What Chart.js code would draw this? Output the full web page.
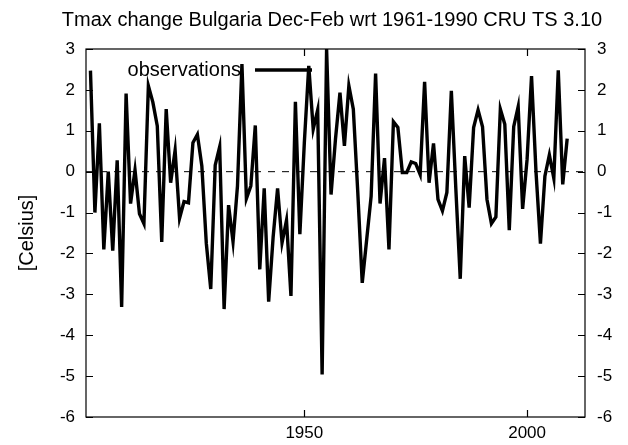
<!DOCTYPE html>
<html>
<head>
<meta charset="utf-8">
<script src="https://cdn.jsdelivr.net/npm/chart.js@4.4.1/dist/chart.umd.min.js"></script>
<style>
  html, body { margin: 0; padding: 0; background: #fff; }
  #wrap { width: 628px; height: 445px; }
</style>
</head>
<body>
<div id="wrap"><canvas id="tmaxChart" width="628" height="445"></canvas></div>
<script>
// Dec-Feb Tmax anomalies for Bulgaria, relative to 1961-1990 (CRU TS 3.10)
const years = [
  1902, 1903, 1904, 1905, 1906, 1907, 1908, 1909, 1910,
  1911, 1912, 1913, 1914, 1915, 1916, 1917, 1918, 1919, 1920,
  1921, 1922, 1923, 1924, 1925, 1926, 1927, 1928, 1929, 1930,
  1931, 1932, 1933, 1934, 1935, 1936, 1937, 1938, 1939, 1940,
  1941, 1942, 1943, 1944, 1945, 1946, 1947, 1948, 1949, 1950,
  1951, 1952, 1953, 1954, 1955, 1956, 1957, 1958, 1959, 1960,
  1961, 1962, 1963, 1964, 1965, 1966, 1967, 1968, 1969, 1970,
  1971, 1972, 1973, 1974, 1975, 1976, 1977, 1978, 1979, 1980,
  1981, 1982, 1983, 1984, 1985, 1986, 1987, 1988, 1989, 1990,
  1991, 1992, 1993, 1994, 1995, 1996, 1997, 1998, 1999, 2000,
  2001, 2002, 2003, 2004, 2005, 2006, 2007, 2008, 2009
];
const tmaxAnomaly = [
  2.47, -1.00, 1.18, -1.90, 0.00, -1.93, 0.28, -3.31, 1.91,
  -0.78, 0.04, -1.03, -1.27, 2.10, 1.70, 1.12, -1.72, 1.53, -0.27,
  0.52, -1.14, -0.73, -0.76, 0.71, 0.91, 0.14, -1.75, -2.87, 0.16,
  0.61, -3.36, -0.82, -1.71, -0.35, 2.63, -0.66, -0.35, 1.13, -2.39,
  -0.41, -3.18, -1.60, -0.41, -1.74, -1.19, -3.04, 1.71, -1.53, 0.70,
  2.59, 1.04, 1.51, -4.96, 3.00, -0.56, 0.80, 1.93, 0.63, 2.10,
  1.53, -0.50, -2.72, -1.66, -0.60, 2.40, -0.78, 0.33, -1.90, 1.22,
  1.08, -0.02, -0.02, 0.24, 0.20, -0.07, 2.20, -0.27, 0.69, -0.68,
  -0.96, -0.51, 1.98, -0.40, -2.62, 0.38, -0.88, 1.08, 1.51, 1.10,
  -0.68, -1.27, -1.11, 1.53, 1.16, -1.43, 1.10, 1.59, -0.91, 0.30,
  2.34, 0.00, -1.76, -0.11, 0.41, -0.16, 2.48, -0.31, 0.81
];
const yTicks = [3, 2, 1, 0, -1, -2, -3, -4, -5, -6];
const xTicks = [1950, 2000];

const FONT = 'Liberation Sans, Arial, Helvetica, sans-serif';

// frame, inward ticks, title, axis label and key, gnuplot style
const framePlugin = {
  id: 'frame',
  afterDraw(chart) {
    const { ctx, chartArea: a, scales } = chart;
    const x = scales.x, y = scales.y;
    ctx.save();
    ctx.strokeStyle = '#000';
    ctx.lineWidth = 1.2;
    ctx.strokeRect(a.left, a.top, a.right - a.left, a.bottom - a.top);

    ctx.beginPath();
    yTicks.forEach(v => {
      const py = Math.round(y.getPixelForValue(v)) + 0.5;
      ctx.moveTo(a.left, py); ctx.lineTo(a.left + 7, py);
      ctx.moveTo(a.right - 7, py); ctx.lineTo(a.right, py);
    });
    xTicks.forEach(v => {
      const px = Math.round(x.getPixelForValue(v)) + 0.5;
      ctx.moveTo(px, a.bottom); ctx.lineTo(px, a.bottom - 7);
      ctx.moveTo(px, a.top); ctx.lineTo(px, a.top + 7);
    });
    ctx.stroke();

    ctx.fillStyle = '#000';
    ctx.font = '20px ' + FONT;
    ctx.textAlign = 'center';
    ctx.textBaseline = 'middle';
    ctx.fillText('Tmax change Bulgaria Dec-Feb wrt 1961-1990 CRU TS 3.10', 332, 20);

    ctx.save();
    ctx.translate(27, 233);
    ctx.rotate(-Math.PI / 2);
    ctx.fillText('[Celsius]', 0, 0);
    ctx.restore();

    // key
    ctx.textAlign = 'right';
    ctx.fillText('observations', 241, 70);
    ctx.lineWidth = 3.4;
    ctx.beginPath();
    ctx.moveTo(255, 70); ctx.lineTo(312, 70);
    ctx.stroke();
    ctx.restore();
  }
};

new Chart(document.getElementById('tmaxChart').getContext('2d'), {
  type: 'line',
  data: {
    datasets: [
      {
        label: 'observations',
        data: years.map((yr, i) => ({ x: yr, y: tmaxAnomaly[i] })),
        borderColor: '#000',
        borderWidth: 3.4,
        pointRadius: 0,
        tension: 0,
        order: 1
      },
      {
        label: 'zero',
        data: [{ x: 1901, y: 0 }, { x: 2013, y: 0 }],
        borderColor: '#000',
        borderWidth: 1,
        borderDash: [7, 7],
        pointRadius: 0,
        order: 2
      }
    ]
  },
  options: {
    responsive: false,
    animation: false,
    layout: { padding: { top: 49, left: 0, right: 0, bottom: 0 } },
    plugins: { legend: { display: false }, tooltip: { enabled: false } },
    scales: {
      x: {
        type: 'linear',
        min: 1901,
        max: 2013,
        afterBuildTicks: s => { s.ticks = xTicks.map(v => ({ value: v })); },
        afterFit: s => { s.height = 28; },
        grid: { display: false, drawTicks: false },
        border: { display: false },
        ticks: { color: '#000', font: { family: FONT, size: 17 }, padding: 6, maxRotation: 0, callback: v => String(v) }
      },
      y: {
        position: 'left',
        min: -6,
        max: 3,
        afterBuildTicks: s => { s.ticks = yTicks.map(v => ({ value: v })); },
        afterFit: s => { s.width = 86; },
        grid: { display: false, drawTicks: false },
        border: { display: false },
        ticks: { color: '#000', font: { family: FONT, size: 17 }, padding: 11 }
      },
      y2: {
        position: 'right',
        min: -6,
        max: 3,
        afterBuildTicks: s => { s.ticks = yTicks.map(v => ({ value: v })); },
        afterFit: s => { s.width = 43; },
        grid: { display: false, drawTicks: false },
        border: { display: false },
        ticks: { color: '#000', font: { family: FONT, size: 17 }, padding: 12 }
      }
    }
  },
  plugins: [framePlugin]
});
</script>
</body>
</html>
